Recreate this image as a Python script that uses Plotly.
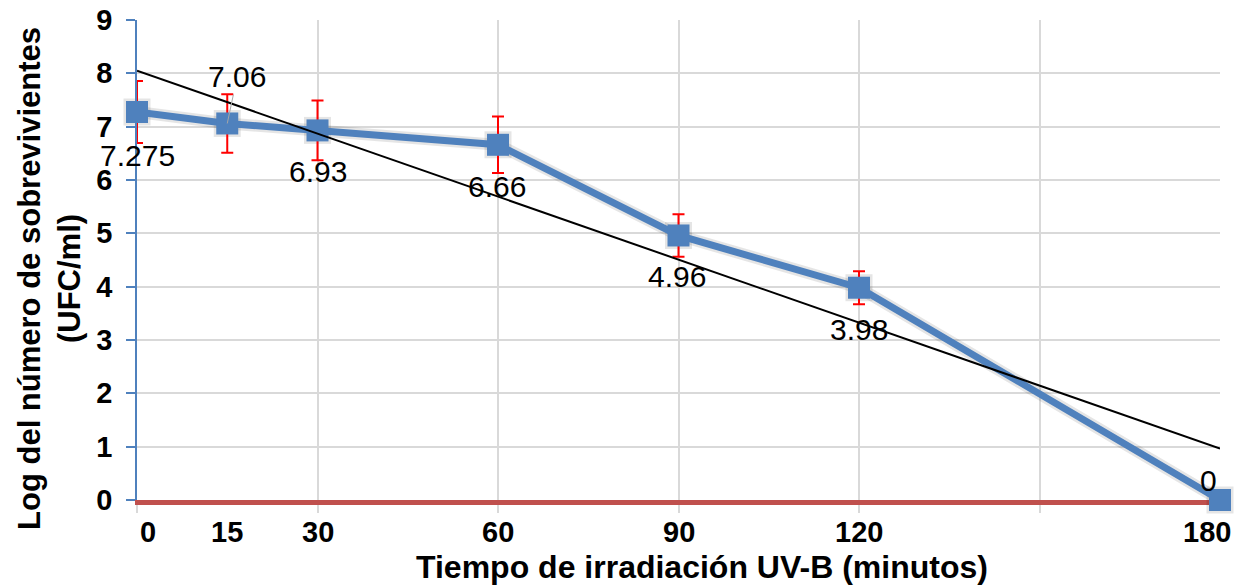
import numpy as np
import plotly.graph_objects as go

# Survival after UV-B irradiation
tiempo_min = [0, 15, 30, 60, 90, 120, 180]
log_sobrevivientes = [7.275, 7.06, 6.93, 6.66, 4.96, 3.98, 0]
error_log = [0.58, 0.55, 0.56, 0.53, 0.40, 0.31, 0]
x_tick_labels = ["0", "15", "30", "60", "90", "120", "180"]
y_tick_vals = list(range(0, 10))

AZUL = "#4F81BD"
ROJO = "#C0504D"
GRID = "#D9D9D9"
FONT = "Liberation Sans"

# linear least-squares trend over the measured points
pend, inter = np.polyfit(tiempo_min, log_sobrevivientes, 1)
x_tend = np.array([min(tiempo_min), max(tiempo_min)])
y_tend = inter + pend * x_tend

fig = go.Figure()

# soft shadow under the survival curve
fig.add_trace(go.Scatter(
    x=tiempo_min, y=log_sobrevivientes,
    mode="lines+markers",
    line=dict(color="rgba(0,0,0,0.10)", width=12),
    marker=dict(symbol="square", size=27, color="rgba(0,0,0,0.10)"),
    cliponaxis=False, showlegend=False, hoverinfo="skip",
))

fig.add_trace(go.Scatter(
    x=tiempo_min, y=log_sobrevivientes,
    mode="lines+markers",
    line=dict(color=AZUL, width=7),
    marker=dict(symbol="square", size=22, color=AZUL),
    error_y=dict(type="data", array=error_log, visible=True,
                 color="#FF0000", thickness=2, width=6),
    cliponaxis=False, showlegend=False,
))

fig.add_trace(go.Scatter(
    x=x_tend, y=y_tend, mode="lines",
    line=dict(color="black", width=2),
    cliponaxis=False, showlegend=False,
))

# value labels: pixel offsets of each label from its point
label_offsets = {0: (0, -43), 15: None, 30: (0, -41), 60: (-1, -42),
                 90: (-2, -41), 120: (0, -42), 180: (-12, 20)}
for xv, yv in zip(tiempo_min, log_sobrevivientes):
    txt = f"{yv:g}"
    off = label_offsets[xv]
    if off is None:
        fig.add_annotation(x=xv, y=yv, xref="x", yref="y", text=txt,
                           showarrow=True, arrowhead=0, arrowwidth=1,
                           arrowcolor="#A6A6A6", ax=10, ay=-47, standoff=0,
                           font=dict(family=FONT, size=30, color="black"))
    else:
        fig.add_annotation(x=xv, y=yv, xref="x", yref="y", text=txt,
                           showarrow=False, xshift=off[0], yshift=off[1],
                           xanchor="center", yanchor="middle",
                           font=dict(family=FONT, size=30, color="black"))

# category labels under the time axis (end labels kept inside the frame)
tick_shift = {0: 11, 180: -13}
for xv, lab in zip(tiempo_min, x_tick_labels):
    fig.add_annotation(x=xv, y=0, xref="x", yref="y", text=lab,
                       showarrow=False, xanchor="center", yanchor="middle",
                       xshift=tick_shift.get(xv, 0), yshift=-32,
                       font=dict(family=FONT, size=29, color="black", weight="bold"))

# axis titles
fig.add_annotation(text="Tiempo de irradiación UV-B (minutos)",
                   xref="paper", yref="paper", x=0.5217, y=-0.1396,
                   xanchor="center", yanchor="middle", showarrow=False,
                   font=dict(family=FONT, size=32, color="black", weight="bold"))
fig.add_annotation(text="Log del número de sobrevivientes<br>(UFC/ml)",
                   xref="paper", yref="paper", x=-0.0813, y=0.4625,
                   xanchor="center", yanchor="middle", showarrow=False,
                   textangle=-90,
                   font=dict(family=FONT, size=31, color="black", weight="bold"))

fig.update_xaxes(
    range=[0, 180], automargin=False,
    tickmode="array", tickvals=tiempo_min, showticklabels=False,
    ticks="", showgrid=False, zeroline=False,
    showline=True, linecolor=ROJO, linewidth=5, layer="below traces",
    minor=dict(tickvals=[0, 30, 60, 90, 120, 150], ticks="outside", ticklen=8,
               tickcolor=GRID, tickwidth=1.5, showgrid=True,
               gridcolor=GRID, gridwidth=1.5),
)
fig.update_yaxes(
    range=[0, 9], automargin=False,
    tickmode="array", tickvals=y_tick_vals,
    ticks="outside", ticklen=9, tickcolor=AZUL, tickwidth=1.5,
    ticklabelstandoff=8,
    showline=True, linecolor=AZUL, linewidth=1.5,
    showgrid=True, gridcolor=GRID, gridwidth=1.5, zeroline=False,
    tickfont=dict(family=FONT, size=29, color="black", weight="bold"),
)

fig.update_layout(
    width=1242, height=587,
    margin=dict(l=137, r=22, t=20, b=87),
    paper_bgcolor="white", plot_bgcolor="white",
    showlegend=False,
)

fig.write_html("out.html")
